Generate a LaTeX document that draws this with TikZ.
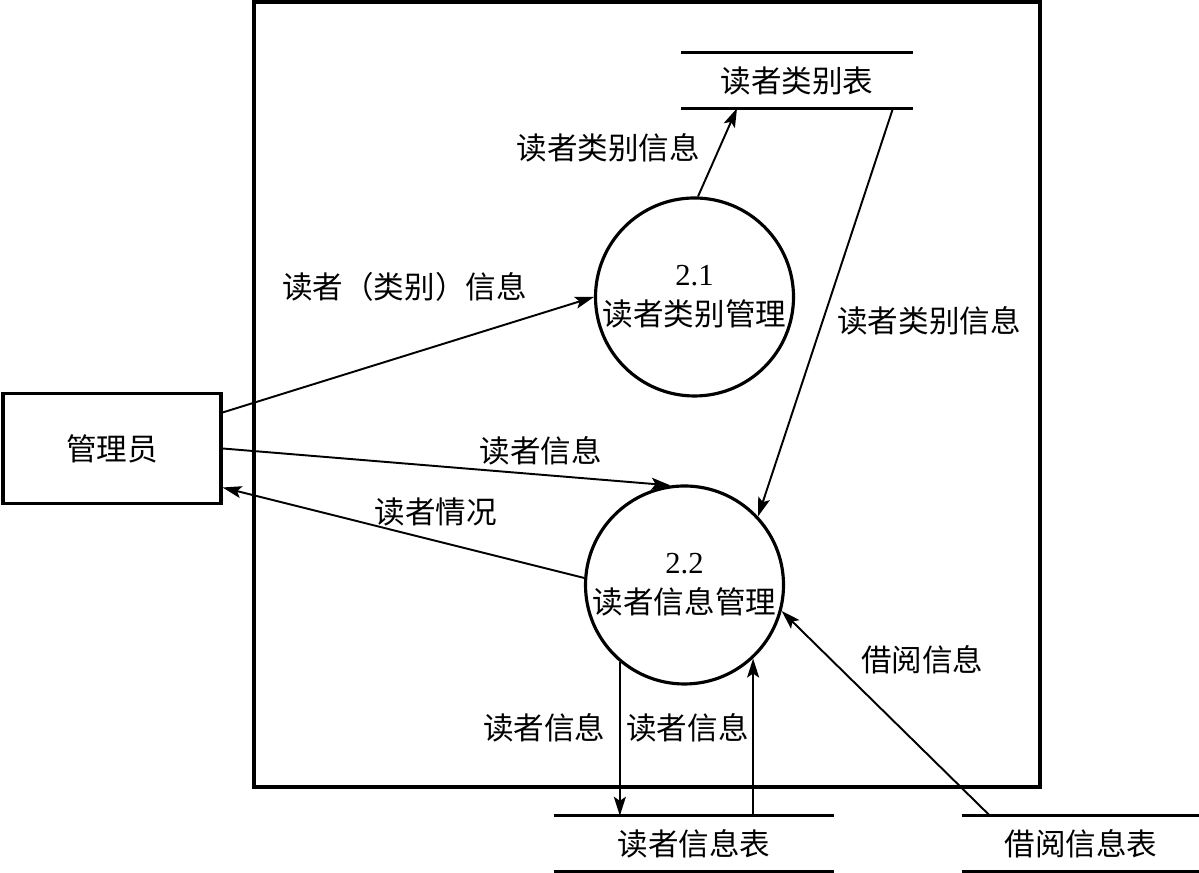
\documentclass[tikz,border=0pt]{standalone}
\usepackage{fontspec}
\setmainfont{Liberation Serif}
\newfontfamily\cjk{Noto Sans CJK SC}
\usetikzlibrary{positioning, arrows.meta, calc}
\newcommand{\zhfont}{\cjk\fontsize{8.7}{11.3}\selectfont}
\tikzset{
  EX/.style={draw,line width=0.9pt,rectangle,minimum width=2.18cm,minimum height=1.1cm,font=\zhfont,inner sep=2pt},
  PR/.style={draw,line width=0.9pt,circle,minimum size=1.98cm,inner sep=0pt,align=center,font=\zhfont},
  DS/.style={rectangle,minimum height=0.54cm,font=\zhfont,inner sep=0pt},
  DL/.style={line width=0.8pt},
  FL/.style={-{Stealth[length=1.9mm,width=1.2mm,inset=0.4mm]},line width=0.55pt},
  lb/.style={font=\zhfont,inner sep=1pt},
}
\begin{document}
\begin{tikzpicture}[font=\zhfont]
\useasboundingbox (0,0) rectangle (11.99,8.73);

% System boundary
\draw[line width=0.9pt] (2.54,0.86) rectangle (10.40,8.71);

% External entity
\node[EX](mgr) at (1.12,4.245){管理员};

% Processes
\node[PR](c1) at (6.945,5.76){{\rmfamily 2.1}\\读者类别管理};
\node[PR](c2) at (6.845,2.88){{\rmfamily 2.2}\\读者信息管理};

% Data stores
\node[DS,minimum width=2.30cm](cat) at (7.97,7.925){读者类别表};
\node[DS,minimum width=2.78cm](rdr) at (6.94,0.295){读者信息表};
\node[DS,minimum width=2.36cm](brw) at (10.81,0.295){借阅信息表};
\foreach \s in {cat,rdr,brw}
  \draw[DL](\s.north west)--(\s.north east) (\s.south west)--(\s.south east);

% Manager flows
\draw[FL]([yshift=3.6mm]mgr.east)--node[lb,pos=0.49,above=5mm]{读者（类别）信息}(c1.180);
\draw[FL](mgr.east)--node[lb,pos=0.71,above=0.5mm]{读者信息}(c2.98);
\draw[FL](c2.176)--node[lb,pos=0.41,above=1mm]{读者情况}([yshift=-3.9mm]mgr.east);

% Category store flows
\draw[FL](c1.88)--node[lb,pos=0.55,left=1.5mm]{读者类别信息}([xshift=-6mm]cat.south);
\draw[FL]([xshift=9.6mm]cat.south)--node[lb,pos=0.52,right=1mm]{读者类别信息}(c2.43);

% Reader store flows
\draw[FL](c2.230)--node[lb,pos=0.43,left=1mm]{读者信息}(c2.230|-rdr.north);
\draw[FL](c2.313|-rdr.north)--node[lb,pos=0.56,left=0mm]{读者信息}(c2.313);

% Borrow store flow
\draw[FL]([xshift=-9.1mm]brw.north)--node[lb,pos=0.76,right=2.5mm]{借阅信息}(c2.345);

\end{tikzpicture}
\end{document}
